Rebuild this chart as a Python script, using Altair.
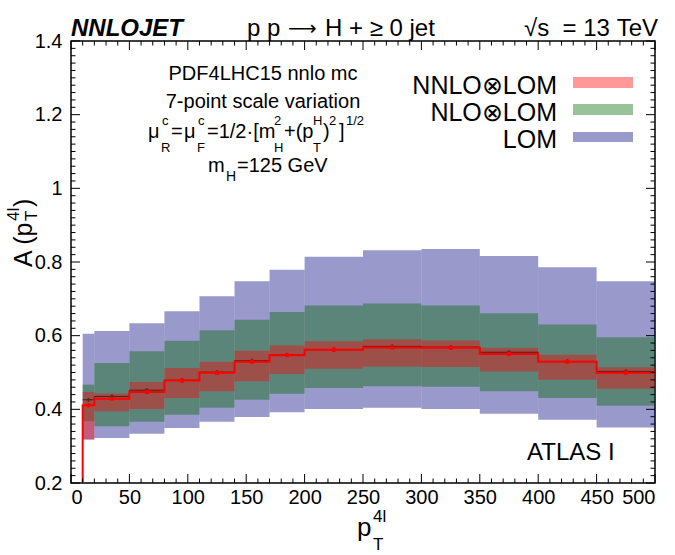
import altair as alt
import pandas as pd
import numpy as np

# ---- data ----
bin_lo = [10, 20, 50, 80, 110, 140, 170, 200, 250, 300, 350, 400, 450]
bin_hi = [20, 50, 80, 110, 140, 170, 200, 250, 300, 350, 400, 450, 500]

nnlo_central = [0.411, 0.429, 0.447, 0.478, 0.499, 0.529, 0.547, 0.562, 0.568, 0.567, 0.550, 0.529, 0.499]
nlo_central = [0.426, 0.435, 0.452, 0.479, 0.501, 0.532, 0.548, 0.562, 0.571, 0.569, 0.555, 0.530, 0.503]

nnlo_lo = [0.318, 0.395, 0.401, 0.431, 0.449, 0.476, 0.496, 0.510, 0.516, 0.515, 0.503, 0.480, 0.456]
nnlo_hi = [0.447, 0.443, 0.474, 0.512, 0.529, 0.559, 0.573, 0.585, 0.590, 0.587, 0.567, 0.548, 0.514]
nlo_lo = [0.368, 0.354, 0.366, 0.385, 0.404, 0.426, 0.442, 0.458, 0.463, 0.461, 0.449, 0.431, 0.410]
nlo_hi = [0.467, 0.526, 0.558, 0.586, 0.615, 0.643, 0.664, 0.682, 0.687, 0.682, 0.661, 0.630, 0.596]
lom_lo = [0.318, 0.322, 0.334, 0.349, 0.366, 0.379, 0.392, 0.401, 0.404, 0.401, 0.388, 0.372, 0.351]
lom_hi = [0.605, 0.613, 0.634, 0.666, 0.707, 0.748, 0.779, 0.814, 0.832, 0.835, 0.816, 0.786, 0.748]

legend_labels = ["NNLO\u2297LOM", "NLO\u2297LOM", "LOM"]
legend_colors = ["#ff0000", "#006600", "#000080"]

x_ticks_major = [0, 50, 100, 150, 200, 250, 300, 350, 400, 450, 500]
y_ticks_major = [0.2, 0.4, 0.6, 0.8, 1.0, 1.2, 1.4]

# ---- layout ----
L, T = 71, 41
W, H = 584, 442
FONT = "Liberation Sans"

xs = alt.Scale(domain=[0, 500], nice=False, zero=False)
ys = alt.Scale(domain=[0.2, 1.4], nice=False, zero=False)

x_axis = alt.Axis(values=x_ticks_major, format="d", tickSize=0, domain=False, grid=False,
                  labelFontSize=20, labelFont=FONT, labelPadding=4, labelColor="black",
                  title=None)
y_axis = alt.Axis(values=y_ticks_major, format="~g", tickSize=0, domain=False, grid=False,
                  labelFontSize=20, labelFont=FONT, labelPadding=9, labelColor="black",
                  title=None)


def X(field):
    return alt.X(field, type="quantitative", scale=xs, axis=x_axis)


def Y(field):
    return alt.Y(field, type="quantitative", scale=ys, axis=y_axis)


bands = pd.DataFrame({
    "lo": bin_lo, "hi": bin_hi,
    "nnlo_lo": nnlo_lo, "nnlo_hi": nnlo_hi,
    "nlo_lo": nlo_lo, "nlo_hi": nlo_hi,
    "lom_lo": lom_lo, "lom_hi": lom_hi,
    "mid": [(a + b) / 2 for a, b in zip(bin_lo, bin_hi)],
    "nnlo": nnlo_central, "nlo": nlo_central,
})


def band(lo, hi, color):
    return alt.Chart(bands).mark_rect(color=color, opacity=0.4, strokeWidth=0).encode(
        x=X("lo"), x2="hi", y=Y(lo), y2=hi)


layers = [
    band("lom_lo", "lom_hi", legend_colors[2]),
    band("nlo_lo", "nlo_hi", legend_colors[1]),
    band("nnlo_lo", "nnlo_hi", legend_colors[0]),
]

# step lines
dark_pts = pd.DataFrame({"x": bin_lo + [bin_hi[-1]], "v": nlo_central + [nlo_central[-1]],
                         "o": list(range(len(bin_lo) + 1))})
red_pts = pd.DataFrame({"x": [bin_lo[0]] + bin_lo + [bin_hi[-1]],
                        "v": [0.2] + nnlo_central + [nnlo_central[-1]],
                        "o": list(range(len(bin_lo) + 2))})

layers.append(alt.Chart(dark_pts).mark_line(interpolate="step-after", color="#4a2018", strokeWidth=1.0).encode(
    x=X("x"), y=Y("v"), order="o:Q"))
layers.append(alt.Chart(bands).mark_point(shape="cross", filled=True, color="#4a2018", size=18, opacity=0.7).encode(
    x=X("mid"), y=Y("nlo")))
layers.append(alt.Chart(red_pts).mark_line(interpolate="step-after", color="#ff0000", strokeWidth=2.0).encode(
    x=X("x"), y=Y("v"), order="o:Q"))
layers.append(alt.Chart(bands).mark_point(shape="square", filled=True, color="#ff0000", size=16, opacity=1).encode(
    x=X("mid"), y=Y("nnlo")))

# ticks (inside, on all four sides)
x_minor = [v for v in range(0, 501, 10) if v % 50 != 0]
y_minor = [round(v, 2) for v in np.arange(0.2, 1.4001, 0.02) if round(v * 50) % 10 != 0]
xmaj_df = pd.DataFrame({"v": x_ticks_major})
xmin_df = pd.DataFrame({"v": x_minor})
ymaj_df = pd.DataFrame({"v": y_ticks_major})
ymin_df = pd.DataFrame({"v": y_minor})

for df, ln in [(xmaj_df, 9), (xmin_df, 4.5)]:
    layers.append(alt.Chart(df).mark_rule(color="black", strokeWidth=1).encode(
        x=X("v"), y=alt.value(H), y2=alt.value(H - ln)))
    layers.append(alt.Chart(df).mark_rule(color="black", strokeWidth=1).encode(
        x=X("v"), y=alt.value(0), y2=alt.value(ln)))
for df, ln in [(ymaj_df, 9), (ymin_df, 4.5)]:
    layers.append(alt.Chart(df).mark_rule(color="black", strokeWidth=1).encode(
        y=Y("v"), x=alt.value(0), x2=alt.value(ln)))
    layers.append(alt.Chart(df).mark_rule(color="black", strokeWidth=1).encode(
        y=Y("v"), x=alt.value(W), x2=alt.value(W - ln)))

dummy = pd.DataFrame({"a": [0]})


def txt(s, px, py, size, align="left", angle=0, weight="normal", style="normal", font=FONT):
    kw = dict(text=s, align=align, baseline="alphabetic", fontSize=size, font=font,
              fontWeight=weight, fontStyle=style, color="black")
    if angle:
        kw["angle"] = angle
    return alt.Chart(dummy).mark_text(**kw).encode(x=alt.value(px - L), y=alt.value(py - T))


NB = "\u00a0"
# header
layers.append(txt("NNLOJET", 71, 36, 24, weight="bold", style="italic"))
layers.append(txt("p p", 247, 36, 24))
layers.append(txt("\u27f6", 288, 35, 20, font="DejaVu Sans"))
layers.append(txt("H + \u2265 0 jet", 325, 36, 24))
layers.append(txt("\u221As" + NB + NB + "=" + NB + "13" + NB + "TeV", 658, 36, 24, align="right"))

# annotation block
layers.append(txt("PDF4LHC15 nnlo mc", 263, 80, 20, align="center"))
layers.append(txt("7-point scale variation", 263, 108, 20, align="center"))
SUP, SUB, MAIN = 125, 152, 138
mu_parts = [
    ("\u03bc", 148, MAIN, 20), ("c", 162, SUP, 13), ("R", 161, SUB, 13),
    ("=", 171, MAIN, 20), ("\u03bc", 184, MAIN, 20), ("c", 198, SUP, 13), ("F", 197, SUB, 13),
    ("=1/2\u00b7[m", 207, MAIN, 20), ("2", 274, SUP, 13), ("H", 274, SUB, 13),
    ("+(p", 284, MAIN, 20), ("H", 313, SUP, 13), ("T", 313, SUB, 13),
    (")", 323, MAIN, 20), ("2", 329, SUP, 13), ("]", 339, MAIN, 20), ("1/2", 346, SUP, 13),
]
for s, px, py, sz in mu_parts:
    layers.append(txt(s, px, py, sz))
layers.append(txt("m", 208, 172, 20))
layers.append(txt("H", 226, 181, 14))
layers.append(txt("=125 GeV", 237, 172, 20))

# legend
leg_base = [94, 121, 148]
leg_sw = [(77, 88), (104, 115), (132, 142)]
for lab, col, b, (y0, y1) in zip(legend_labels, legend_colors, leg_base, leg_sw):
    layers.append(txt(lab, 557, b, 25, align="right"))
    layers.append(alt.Chart(dummy).mark_rect(color=col, opacity=0.4).encode(
        x=alt.value(573 - L), x2=alt.value(633 - L), y=alt.value(y0 - T), y2=alt.value(y1 - T)))

layers.append(txt("ATLAS I", 527, 460, 24))

# axis titles
layers.append(txt("p", 357, 536, 26))
layers.append(txt("4l", 373, 522, 17))
layers.append(txt("T", 373, 550, 17))
layers.append(txt("A (p", 32, 267, 25, angle=270))
layers.append(txt("T", 37, 221, 17, angle=270))
layers.append(txt("4l", 19, 221, 17, angle=270))
layers.append(txt(")", 32, 207, 25, angle=270))

chart = alt.layer(*layers).properties(
    width=W, height=H,
    autosize=alt.AutoSizeParams(type="none"),
    padding={"left": L, "top": T, "right": 675 - L - W, "bottom": 555 - T - H},
    background="white",
).configure_view(stroke="black", strokeWidth=1.5)

chart.save("out.html", embed_options={"renderer": "svg", "actions": False})
